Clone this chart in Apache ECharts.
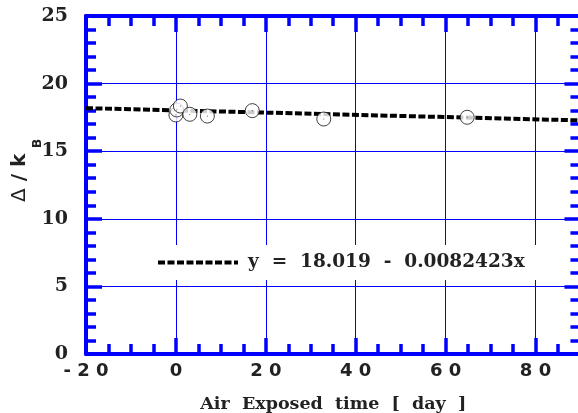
<!DOCTYPE html>
<html>
<head>
<meta charset="utf-8">
<script src="https://cdn.jsdelivr.net/npm/echarts@6/dist/echarts.min.js"></script>
<style>
  html, body { margin: 0; padding: 0; background: #fff; }
  #chart { width: 578px; height: 413px; }
</style>
</head>
<body>
<div id="chart"></div>
<script>
// Gap energy versus air exposure time
const exposureDays = [0, 0.2, 1.0, 3.1, 7.0, 17.0, 32.9, 64.8];
const gapValues    = [17.68, 18.05, 18.34, 17.73, 17.6, 18.0, 17.38, 17.51];

// Linear fit as stated in the legend
const FIT_INTERCEPT = 18.019;
const FIT_SLOPE = -0.0082423;
const fitLabel = 'y  =  18.019  -  0.0082423x';

// Axis ranges and ticks
const X_MIN = -20, X_END = 90, X_AXIS_MAX = 100, X_STEP = 20;
const Y_MIN = 0, Y_MAX = 25, Y_STEP = 5;

const xTitle = 'Air  Exposed  time  [  day  ]';
const yTitleDelta = 'Δ';
const yTitleRest = ' / k';
const yTitleSub = 'B';

const BLUE = '#0000ff';
const PX_PER_DAY = 4.495;
const GRID_LEFT = 86;

const points = exposureDays.map((d, i) => [d, gapValues[i]]);
const fitLine = [X_MIN, X_END].map(x => [x, FIT_INTERCEPT + FIT_SLOPE * x]);

// The plot box closes at X_END; the x scale runs a little past it so the
// last minor tick interval stays 5 days wide.
const gridWidth = (X_AXIS_MAX - X_MIN) * PX_PER_DAY;
const hiddenWidth = (X_AXIS_MAX - X_END) * PX_PER_DAY;
const rightAxisOffset = -hiddenWidth;

const spaced = v => String(v).split('').join(' ');

const chart = echarts.init(document.getElementById('chart'), null, { renderer: 'canvas' });

const axisBase = {
  type: 'value',
  axisLine: { show: true, onZero: false, lineStyle: { color: BLUE, width: 4 } },
  axisTick: { show: true, inside: true, length: 16, lineStyle: { color: BLUE, width: 3.5 } },
  minorTick: { show: true, length: 10, lineStyle: { color: BLUE, width: 3.5 } }
};

chart.setOption({
  animation: false,
  backgroundColor: '#fff',
  grid: { left: GRID_LEFT, top: 16, width: gridWidth, bottom: 59, outerBoundsMode: 'none', containLabel: false },
  legend: {
    data: [fitLabel],
    left: 150, top: 245,
    padding: [8, 20, 8, 6],
    backgroundColor: '#fff',
    itemWidth: 80, itemHeight: 14,
    itemStyle: { opacity: 0, borderWidth: 0 },
    lineStyle: { color: '#000', width: 4, type: [7, 2.5] },
    textStyle: { fontFamily: 'DejaVu Serif', fontWeight: 'bold', fontSize: 18.5, color: '#222', padding: [0, 0, 0, 5] }
  },
  xAxis: [
    Object.assign({}, axisBase, {
      position: 'bottom',
      min: X_MIN, max: X_AXIS_MAX, interval: X_STEP,
      minorTick: Object.assign({}, axisBase.minorTick, { splitNumber: 4 }),
      splitLine: { show: true, lineStyle: { color: BLUE, width: 1 } },
      axisLabel: {
        margin: 8,
        fontFamily: 'DejaVu Sans', fontWeight: 'bold', fontSize: 18, color: '#222',
        formatter: v => (v >= X_END ? '' : spaced(v))
      },
      name: xTitle, nameLocation: 'middle', nameGap: 41,
      nameTextStyle: {
        fontFamily: 'DejaVu Serif', fontWeight: 'bold', fontSize: 17.5, color: '#222',
        padding: [0, hiddenWidth, 0, 0]
      }
    }),
    Object.assign({}, axisBase, {
      position: 'top',
      min: X_MIN, max: X_AXIS_MAX, interval: X_STEP,
      minorTick: Object.assign({}, axisBase.minorTick, { splitNumber: 4 }),
      splitLine: { show: false },
      axisLabel: { show: false }
    })
  ],
  yAxis: [
    Object.assign({}, axisBase, {
      position: 'left',
      min: Y_MIN, max: Y_MAX, interval: Y_STEP,
      minorTick: Object.assign({}, axisBase.minorTick, { splitNumber: 5 }),
      splitLine: { show: true, lineStyle: { color: BLUE, width: 1 } },
      axisLabel: {
        margin: 18,
        fontFamily: 'DejaVu Serif', fontWeight: 'bold', fontSize: 19, color: '#222'
      }
    }),
    Object.assign({}, axisBase, {
      position: 'right',
      offset: rightAxisOffset,
      min: Y_MIN, max: Y_MAX, interval: Y_STEP,
      minorTick: Object.assign({}, axisBase.minorTick, { splitNumber: 5 }),
      splitLine: { show: false },
      axisLabel: { show: false }
    })
  ],
  graphic: [
    {
      type: 'text', x: 30, y: 202, rotation: Math.PI / 2,
      style: {
        text: '{d|' + yTitleDelta + '}{k|' + yTitleRest + '}',
        align: 'left', verticalAlign: 'bottom',
        rich: {
          d: { fontFamily: 'DejaVu Sans', fontWeight: 'normal', fontSize: 20, fill: '#222' },
          k: { fontFamily: 'DejaVu Sans', fontWeight: 'bold', fontSize: 20, fill: '#222' }
        }
      }
    },
    {
      type: 'text', x: 44, y: 148, rotation: Math.PI / 2,
      style: { text: yTitleSub, fontFamily: 'DejaVu Sans', fontWeight: 'bold', fontSize: 12, fill: '#222', align: 'left', verticalAlign: 'bottom' }
    }
  ],
  series: [
    {
      name: fitLabel,
      type: 'line',
      data: fitLine,
      showSymbol: false,
      symbol: 'none',
      clip: true,
      z: 3,
      lineStyle: { color: '#000', width: 4, type: [7, 2.5] },
      itemStyle: { color: '#000' }
    },
    {
      name: 'points',
      type: 'scatter',
      data: points,
      symbol: 'circle',
      symbolSize: 14,
      z: 4,
      itemStyle: { color: '#fff', borderColor: '#111', borderWidth: 1 }
    },
    {
      name: 'centres',
      type: 'scatter',
      data: points,
      symbol: 'circle',
      symbolSize: 1.2,
      z: 5,
      silent: true,
      itemStyle: { color: '#444' }
    }
  ]
});
</script>
</body>
</html>
